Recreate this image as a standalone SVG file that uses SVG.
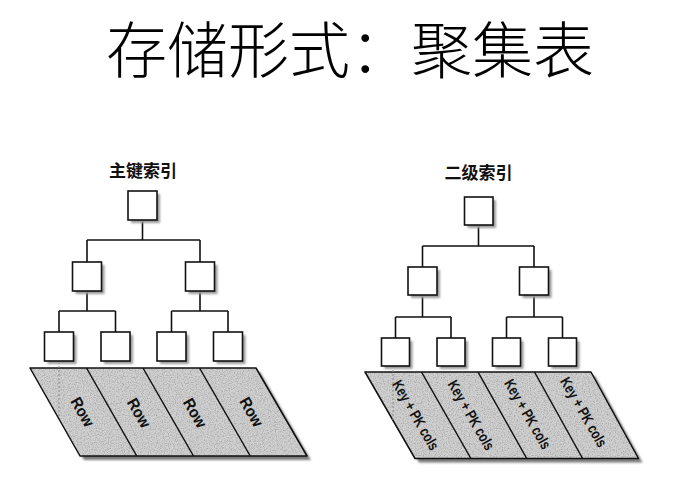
<svg xmlns="http://www.w3.org/2000/svg" width="699" height="499" viewBox="0 0 699 499">
<style>
.title{font-family:"Noto Sans CJK SC","Noto Sans",sans-serif;font-size:61px;font-weight:300;fill:#000}
.sub{font-family:"Noto Sans CJK SC","Noto Sans",sans-serif;font-size:17px;font-weight:bold;fill:#111;text-anchor:middle}
.box{fill:#fff;stroke:#111;stroke-width:1.6}
.shadow{fill:#9a9a9a;filter:url(#blur)}
.conn{fill:none;stroke:#111;stroke-width:1.6}
.strip{fill:#d0d0d0;stroke:#111;stroke-width:1.5;stroke-linejoin:round}
.div{stroke:#111;stroke-width:1.5}
.pshadow{fill:#7a7a7a;filter:url(#blur)}
.dash{stroke:#8a8a8a;stroke-width:1;stroke-dasharray:2 2;fill:none}
.lbl{font-family:"Liberation Sans",Arial,sans-serif;font-weight:bold;fill:#111;text-anchor:middle;dominant-baseline:central}
</style>
<defs>
<filter id="blur" x="-20%" y="-20%" width="140%" height="140%"><feGaussianBlur stdDeviation="1"/></filter>
<filter id="grain" x="0" y="0" width="100%" height="100%">
<feTurbulence type="fractalNoise" baseFrequency="0.85" numOctaves="2" seed="3" result="n"/>
<feColorMatrix in="n" type="matrix" values="0 0 0 0 0  0 0 0 0 0  0 0 0 0 0  0 0 0 2.2 -0.95" result="d"/>
<feComposite in="d" in2="SourceGraphic" operator="in"/>
</filter>
</defs>
<rect width="699" height="499" fill="#fff"/>
<text class="title" x="106" y="73">存储形式：聚集表</text>

<g id="primary-index">
<text class="sub" x="143" y="176.5">主键索引</text>
<g id="p-rows">
<polygon class="pshadow" points="34,372 260,372 311,460 84,460"/>
<polygon class="strip" points="30,368 256,368 307,456 80,456"/>
<polygon points="30,368 256,368 307,456 80,456" fill="#000" filter="url(#grain)" opacity="0.22"/>
<line class="div" x1="86.5" y1="368" x2="136.75" y2="456"/>
<line class="div" x1="143" y1="368" x2="193.5" y2="456"/>
<line class="div" x1="199.5" y1="368" x2="250.25" y2="456"/>
<line class="dash" x1="59" y1="362" x2="59" y2="417"/>
<text class="lbl" font-size="16" textLength="31" lengthAdjust="spacingAndGlyphs" transform="translate(82.5,412) rotate(60)">Row</text>
<text class="lbl" font-size="16" textLength="31" lengthAdjust="spacingAndGlyphs" transform="translate(139,413) rotate(60)">Row</text>
<text class="lbl" font-size="16" textLength="31" lengthAdjust="spacingAndGlyphs" transform="translate(195,413) rotate(60)">Row</text>
<text class="lbl" font-size="16" textLength="31" lengthAdjust="spacingAndGlyphs" transform="translate(251.5,412) rotate(60)">Row</text>
</g>
<g id="p-connectors">
<path class="conn" d="M142.5 220V240M87 240H200M87 240V262M200 240V262M87 291V311M59 311H115.5M59 311V332M115.5 311V332M200 291V311M171.5 311H228M171.5 311V332M228 311V332"/>
</g>
<g id="p-root"><rect class="shadow" x="131" y="194" width="29" height="29"/><rect class="box" x="128" y="191" width="29" height="29"/></g>
<g id="p-l2a"><rect class="shadow" x="75.5" y="265" width="29" height="29"/><rect class="box" x="72.5" y="262" width="29" height="29"/></g>
<g id="p-l2b"><rect class="shadow" x="188.5" y="265" width="29" height="29"/><rect class="box" x="185.5" y="262" width="29" height="29"/></g>
<g id="p-l3a"><rect class="shadow" x="47.5" y="335" width="29" height="29"/><rect class="box" x="44.5" y="332" width="29" height="29"/></g>
<g id="p-l3b"><rect class="shadow" x="104" y="335" width="29" height="29"/><rect class="box" x="101" y="332" width="29" height="29"/></g>
<g id="p-l3c"><rect class="shadow" x="160" y="335" width="29" height="29"/><rect class="box" x="157" y="332" width="29" height="29"/></g>
<g id="p-l3d"><rect class="shadow" x="216.5" y="335" width="29" height="29"/><rect class="box" x="213.5" y="332" width="29" height="29"/></g>
</g>

<g id="secondary-index">
<text class="sub" x="478.5" y="179">二级索引</text>
<g id="s-rows">
<polygon class="pshadow" points="369,376 595,376 642.5,462.5 419,462.5"/>
<polygon class="strip" points="365,372 591,372 638.5,458.5 415,458.5"/>
<polygon points="365,372 591,372 638.5,458.5 415,458.5" fill="#000" filter="url(#grain)" opacity="0.22"/>
<line class="div" x1="421.5" y1="372" x2="470.9" y2="458.5"/>
<line class="div" x1="478" y1="372" x2="526.75" y2="458.5"/>
<line class="div" x1="534.5" y1="372" x2="582.6" y2="458.5"/>
<line class="dash" x1="393" y1="366" x2="393" y2="422"/>
<text class="lbl" font-size="15" textLength="78" lengthAdjust="spacingAndGlyphs" transform="translate(416,415) rotate(60)">Key + PK cols</text>
<text class="lbl" font-size="15" textLength="78" lengthAdjust="spacingAndGlyphs" transform="translate(471.5,415) rotate(60)">Key + PK cols</text>
<text class="lbl" font-size="15" textLength="78" lengthAdjust="spacingAndGlyphs" transform="translate(528,414) rotate(60)">Key + PK cols</text>
<text class="lbl" font-size="15" textLength="78" lengthAdjust="spacingAndGlyphs" transform="translate(584,412) rotate(60)">Key + PK cols</text>
</g>
<g id="s-connectors">
<path class="conn" d="M478.5 225V246M422.5 246H534M422.5 246V267M534 246V267M422.5 295V317M395.5 317H451M395.5 317V338M451 317V338M534 295V317M506.5 317H562.5M506.5 317V338M562.5 317V338"/>
</g>
<g id="s-root"><rect class="shadow" x="467.5" y="200" width="28.5" height="28"/><rect class="box" x="464.5" y="197" width="28.5" height="28"/></g>
<g id="s-l2a"><rect class="shadow" x="411" y="270" width="29" height="28"/><rect class="box" x="408" y="267" width="29" height="28"/></g>
<g id="s-l2b"><rect class="shadow" x="522.5" y="270" width="29" height="28"/><rect class="box" x="519.5" y="267" width="29" height="28"/></g>
<g id="s-l3a"><rect class="shadow" x="384.5" y="341" width="28" height="28"/><rect class="box" x="381.5" y="338" width="28" height="28"/></g>
<g id="s-l3b"><rect class="shadow" x="440" y="341" width="28" height="28"/><rect class="box" x="437" y="338" width="28" height="28"/></g>
<g id="s-l3c"><rect class="shadow" x="495.5" y="341" width="28" height="28"/><rect class="box" x="492.5" y="338" width="28" height="28"/></g>
<g id="s-l3d"><rect class="shadow" x="551.5" y="341" width="28" height="28"/><rect class="box" x="548.5" y="338" width="28" height="28"/></g>
</g>
</svg>
